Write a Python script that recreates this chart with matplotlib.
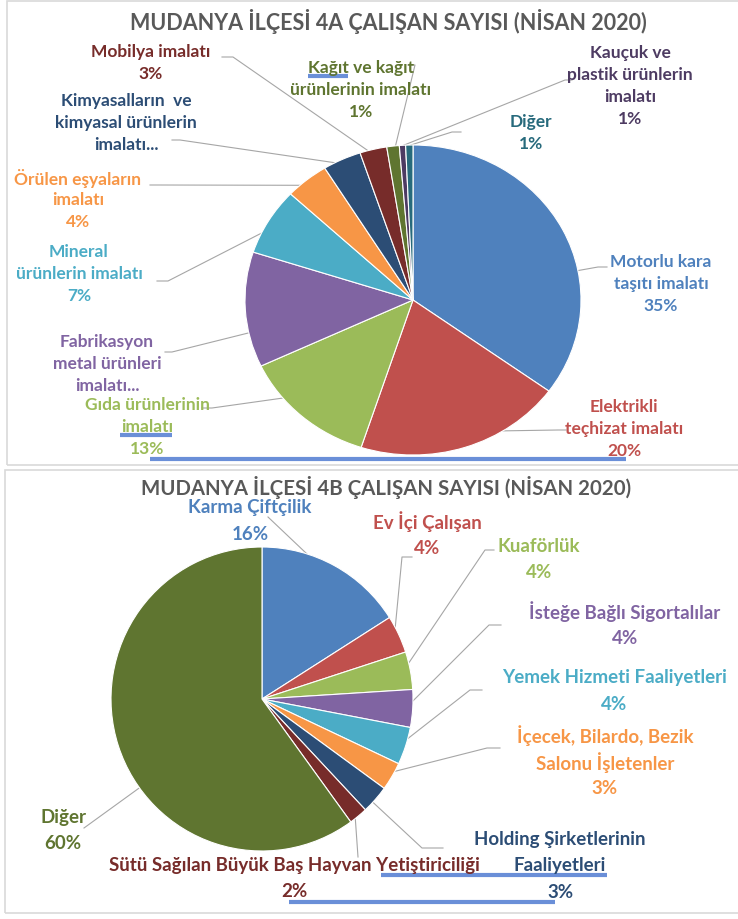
import matplotlib.pyplot as plt
from matplotlib.patches import Rectangle
from matplotlib.lines import Line2D
import numpy as np

W, H = 738, 919
FONT = ['Lato', 'DejaVu Sans']

# ---- chart 4A ----
a_title = 'MUDANYA İLÇESİ 4A ÇALIŞAN SAYISI (NİSAN 2020)'
a_labels = ['Motorlu kara\ntaşıtı imalatı', 'Elektrikli\nteçhizat imalatı',
            'Gıda ürünlerinin\nimalatı', 'Fabrikasyon\nmetal ürünleri\nimalatı...',
            'Mineral\nürünlerin imalatı', 'Örülen eşyaların\nimalatı',
            'Kimyasalların  ve\nkimyasal ürünlerin\nimalatı...', 'Mobilya imalatı',
            'Kağıt ve kağıt\nürünlerinin imalatı', 'Kauçuk ve\nplastik ürünlerin\nimalatı',
            'Diğer']
a_values = [35, 20, 13, 12, 7, 4.2, 3.7, 2.6, 1.2, 0.6, 0.7]
a_show_pct = [True, True, True, False, True, True, False, True, True, True, True]
a_colors = ['#4F81BD', '#C0504D', '#9BBB59', '#8064A2', '#4BACC6', '#F79646',
            '#2C4D75', '#772C2A', '#5F7530', '#4D3B62', '#276A7C']

# ---- chart 4B ----
b_title = 'MUDANYA İLÇESİ 4B ÇALIŞAN SAYISI (NİSAN 2020)'
b_labels = ['Karma Çiftçilik', 'Ev İçi Çalışan', 'Kuaförlük', 'İsteğe Bağlı Sigortalılar',
            'Yemek Hizmeti Faaliyetleri', 'İçecek, Bilardo, Bezik\nSalonu İşletenler',
            'Holding Şirketlerinin\nFaaliyetleri', 'Sütü Sağılan Büyük Baş Hayvan Yetiştiriciliği',
            'Diğer']
b_values = [16, 4, 4, 4, 4, 3, 3, 2, 60]
b_colors = ['#4F81BD', '#C0504D', '#9BBB59', '#8064A2', '#4BACC6', '#F79646',
            '#2C4D75', '#772C2A', '#5F7530']

# label layout in pixels: text centre x, first line y, leader start, leader knee
a_layout = [(661, 262, (607, 267), (598, 267)), (624, 407, (566, 430), (558, 430)),
            (147, 405, (202, 408), (212, 408)), (107, 342, (165, 352), (172, 352)),
            (79, 252, (157, 281), (168, 281)), (78, 178, (150, 185), (158, 185)),
            (126, 101, (172, 140), (180, 140)), (151, 52, (222, 57), (233, 57)),
            (361, 68, (408, 65), (415, 65)), (630, 53, (572, 80), (565, 80)),
            (531, 122, (461, 132), (452, 132))]
b_layout = [(250, 508, (268, 517), (268, 517)), (427, 522, (412, 557), (402, 557)),
            (539, 546, (494, 550), (485, 550)), (625, 612, (501, 625), (489, 625)),
            (614, 678, (482, 690), (470, 690)), (605, 736, (500, 748), (487, 748)),
            (560, 839, (443, 848), (422, 848)), (294, 865, (358, 857), (358, 857)),
            (63, 817, (84, 828), (84, 828))]


def fx(x):
    return x / W


def fy(y):
    return 1 - y / H


fig = plt.figure(figsize=(W / 100, H / 100), dpi=100)
fig.patch.set_facecolor('white')

# panel frames
for x0, y0, x1, y1 in [(7, 1, 745, 465), (5, 470, 745, 913)]:
    fig.add_artist(Rectangle((fx(x0), fy(y1)), fx(x1 - x0), (y1 - y0) / H,
                             transform=fig.transFigure, fill=False,
                             edgecolor='#D9D9D9', lw=1.2))


def draw_pie(values, colors, labels, show_pct, layout, centre, rx, ry, fs, gap):
    cx, cy = centre
    ax = fig.add_axes([fx(cx - rx), fy(cy + ry), fx(2 * rx), 2 * ry / H])
    wedges, _ = ax.pie(values, colors=colors, startangle=90, counterclock=False,
                       wedgeprops=dict(edgecolor='white', linewidth=0.8))
    ax.set_aspect('auto')
    ax.set_xlim(-1, 1)
    ax.set_ylim(-1, 1)
    total = sum(values)
    inv = ax.transData.inverted()
    for w, v, lab, pct, col, (tx, ty, st, kn) in zip(wedges, values, labels, show_pct,
                                                      colors, layout):
        lines = lab.split('\n')
        if pct:
            lines.append('{:.0f}%'.format(round(v / total * 100)))
        for i, line in enumerate(lines):
            fig.text(fx(tx), fy(ty + i * gap), line, ha='center', va='center',
                     color=col, fontsize=fs, fontweight='bold', family=FONT)
        # leader line to the nearest allowed point of the wedge rim
        ks = inv.transform((kn[0], H - kn[1]))
        ss = inv.transform((st[0], H - st[1]))
        lo, hi = w.theta1, w.theta2
        m = 0.3 * (hi - lo)
        mid = (lo + hi) / 2
        ang = np.degrees(np.arctan2(ks[1], ks[0]))
        ang = (ang - mid + 180) % 360 - 180 + mid
        ang = min(max(ang, lo + m), hi - m)
        ex, ey = np.cos(np.radians(ang)), np.sin(np.radians(ang))
        ax.plot([ss[0], ks[0], ex], [ss[1], ks[1], ey], color='#A6A6A6', lw=0.8,
                clip_on=False, zorder=0)
    return ax


draw_pie(a_values, a_colors, a_labels, a_show_pct, a_layout, (413, 300), 168, 155, 12.5, 22)
draw_pie(b_values, b_colors, b_labels, [True] * len(b_values), b_layout, (262, 699), 151, 152,
         13.5, 26.5)

fig.text(fx(388), fy(22), a_title, ha='center', va='center', color='#595959',
         fontsize=15.5, fontweight='bold', family=FONT)
fig.text(fx(386), fy(488), b_title, ha='center', va='center', color='#595959',
         fontsize=14.7, fontweight='bold', family=FONT)

# blue highlight marks drawn over the screenshot
for x0, x1, y in [(308, 348, 76), (120, 172, 435), (150, 626, 459),
                  (381, 607, 875), (289, 555, 902)]:
    fig.add_artist(Line2D([fx(x0), fx(x1)], [fy(y), fy(y)], transform=fig.transFigure,
                          color='#6A8FD8', lw=3, solid_capstyle='butt'))

fig.savefig('out.png', dpi=100)
